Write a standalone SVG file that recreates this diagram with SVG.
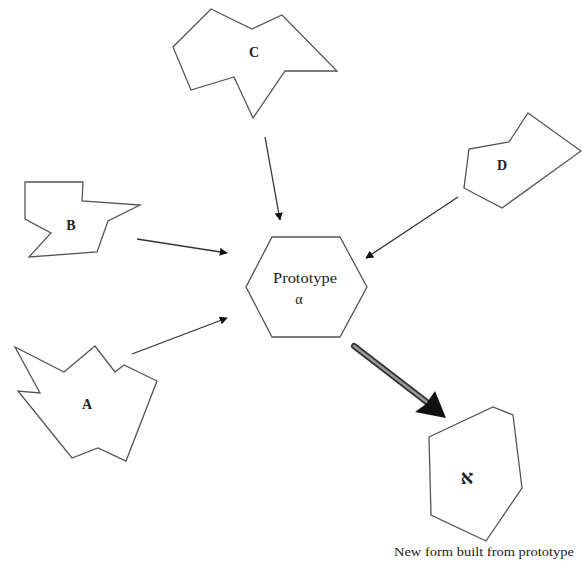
<svg xmlns="http://www.w3.org/2000/svg" width="582" height="562" viewBox="0 0 582 562">
<style>
.shape{fill:#fff;stroke:#555;stroke-width:1.3;stroke-linejoin:miter}
.lbl{font-family:"Liberation Serif","DejaVu Serif",serif;font-size:14px;fill:#222;text-anchor:middle}
.conn{stroke:#333;stroke-width:1.3;fill:none}
</style>
<defs>
<marker id="ah" viewBox="0 0 10 10" refX="9" refY="5" markerWidth="8" markerHeight="8" markerUnits="userSpaceOnUse" orient="auto">
<path d="M0,0 L10,5 L0,10 z" fill="#111"/>
</marker>
</defs>
<rect width="582" height="562" fill="#fff"/>
<g id="nodeC">
<polygon class="shape" points="211,9 252,29 282,15 337,71 285,71 253,118 234,77 191,90 173,47"/>
<text class="lbl" x="254" y="57" font-weight="bold">C</text>
</g>
<g id="nodeB">
<polygon class="shape" points="25,182 83,182 82,201 140,205 108,221 97,252 29,257 51,233 25,219"/>
<text class="lbl" x="71" y="230" font-weight="bold">B</text>
</g>
<g id="nodeA">
<polygon class="shape" points="15,347 64,372 95,346 115,372 124,365 157,381 126,461 98,448 72,458 18,391 40,393"/>
<text class="lbl" x="87" y="409" font-weight="bold">A</text>
</g>
<g id="nodeD">
<polygon class="shape" points="528,113 581,151 502,208 464,188 469,149 509,142"/>
<text class="lbl" x="502" y="170" font-weight="bold">D</text>
</g>
<g id="prototype">
<polygon class="shape" points="272,237 340,237 367,287 340,337 272,337 246,287"/>
<text class="lbl" x="305" y="283" textLength="64" lengthAdjust="spacingAndGlyphs">Prototype</text>
<text class="lbl" x="299" y="304">α</text>
</g>
<g id="newform">
<polygon class="shape" points="429,437 493,407 513,415 522,488 486,541 431,515"/>
<text class="lbl" x="467" y="484" style="font-size:20px" font-weight="bold">א</text>
<text class="lbl" x="484" y="556" style="font-size:13px" textLength="180" lengthAdjust="spacingAndGlyphs">New form built from prototype</text>
</g>
<g id="connectors">
<line class="conn" x1="265" y1="137" x2="280" y2="220" marker-end="url(#ah)"/>
<line class="conn" x1="137" y1="239" x2="227" y2="253" marker-end="url(#ah)"/>
<line class="conn" x1="132" y1="354" x2="227" y2="318" marker-end="url(#ah)"/>
<line class="conn" x1="458" y1="197" x2="366" y2="258" marker-end="url(#ah)"/>
<line x1="354" y1="346" x2="428" y2="403" stroke="#333" stroke-width="6" stroke-linecap="round"/>
<line x1="354" y1="346" x2="428" y2="403" stroke="#999" stroke-width="2.5" stroke-linecap="round"/>
<polygon points="446,418 415,412 426,404 435,391" fill="#111"/>
</g>
</svg>
